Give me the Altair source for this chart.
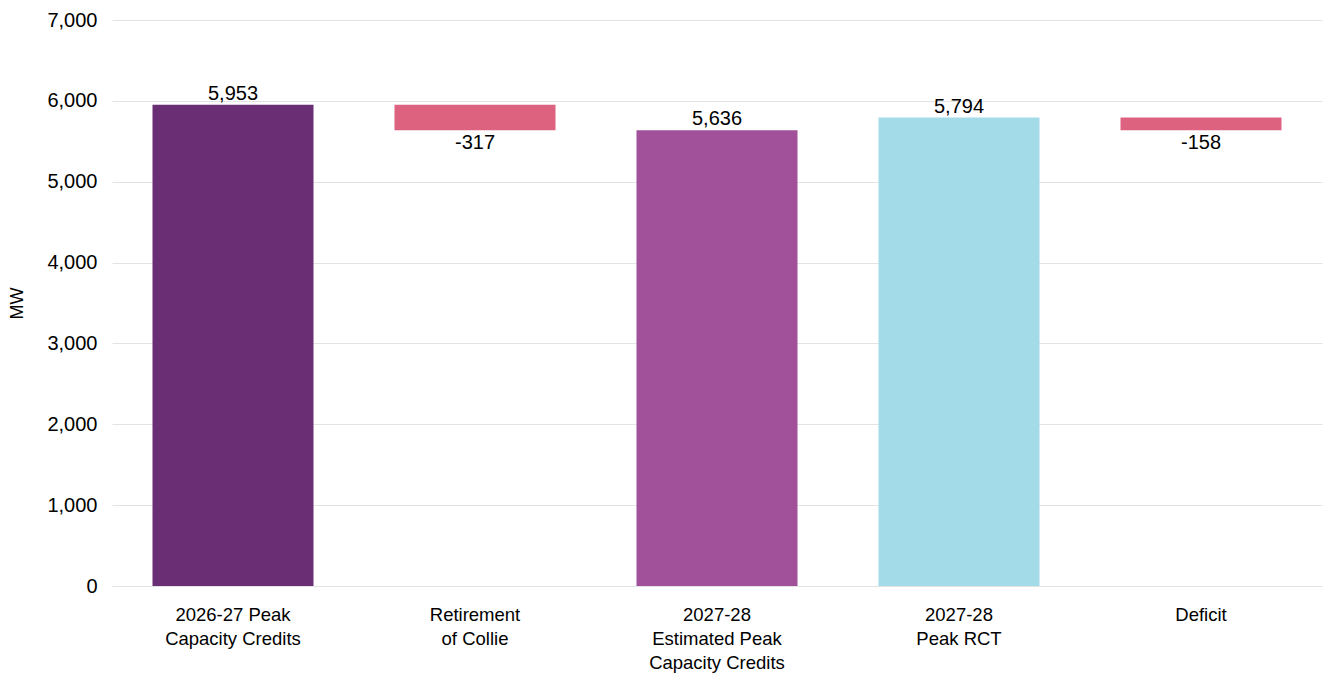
import altair as alt
import pandas as pd

categories = [
    "2026-27 Peak|Capacity Credits",
    "Retirement|of Collie",
    "2027-28|Estimated Peak|Capacity Credits",
    "2027-28|Peak RCT",
    "Deficit",
]
values = [5953, -317, 5636, 5794, -158]
kinds = ["total", "delta", "total", "total", "delta"]
colors = ["#6A2E74", "#DD6280", "#A0519A", "#A4DBE8", "#DD6280"]
labels = ["5,953", "-317", "5,636", "5,794", "-158"]

rows = []
prev_top = 0
for c, v, k, col, lab in zip(categories, values, kinds, colors, labels):
    if k == "total":
        start, end = 0, v
        prev_top = v
    else:
        start, end = prev_top, prev_top + v
        prev_top = end
    rows.append({"cat": c, "start": start, "end": end, "color": col,
                 "label": lab, "neg": v < 0,
                 "ly": max(start, end) if v >= 0 else min(start, end)})
df = pd.DataFrame(rows)

x = alt.X("cat:N", sort=categories, title=None,
          scale=alt.Scale(paddingInner=0.335, paddingOuter=0.1675),
          axis=alt.Axis(labelExpr="split(datum.value, '|')", labelAngle=0,
                        labelFontSize=18.5, labelLineHeight=24, labelPadding=19,
                        labelColor="#000000", labelFont="Liberation Sans",
                        ticks=False, domain=True, domainColor="#e3e3e3",
                        grid=False, labelBaseline="top"))

base = alt.Chart(df)

bars = base.mark_bar(size=161).encode(
    x=x,
    y=alt.Y("start:Q", title="MW",
            scale=alt.Scale(domain=[0, 7000], nice=False),
            axis=alt.Axis(values=[0, 1000, 2000, 3000, 4000, 5000, 6000, 7000],
                          format=",.0f", labelFontSize=20, labelColor="#000000",
                          labelFont="Liberation Sans", labelPadding=15,
                          ticks=False, domain=False, gridColor="#e3e3e3",
                          titleFontSize=18, titleFontWeight="normal",
                          titleFont="Liberation Sans", titleColor="#000000",
                          titleX=-95, titleY=283, titleAngle=270,
                          titleAlign="center", titleBaseline="middle")),
    y2="end:Q",
    color=alt.Color("color:N", scale=None),
)

pos_text = base.transform_filter("!datum.neg").mark_text(
    baseline="bottom", dy=-1, fontSize=20, font="Liberation Sans", color="#000000"
).encode(x=x, y="ly:Q", text="label:N")

neg_text = base.transform_filter("datum.neg").mark_text(
    baseline="top", dy=3, fontSize=20, font="Liberation Sans", color="#000000"
).encode(x=x, y="ly:Q", text="label:N")

chart = alt.layer(bars, pos_text, neg_text).properties(
    width=1210, height=566,
    background="#ffffff",
    autosize=alt.AutoSizeParams(type="none"),
    padding={"left": 112, "top": 20, "right": 3, "bottom": 88},
).configure_view(strokeWidth=0, stroke="transparent")

chart.save("out.html", embed_options={"renderer": "svg", "actions": False})
